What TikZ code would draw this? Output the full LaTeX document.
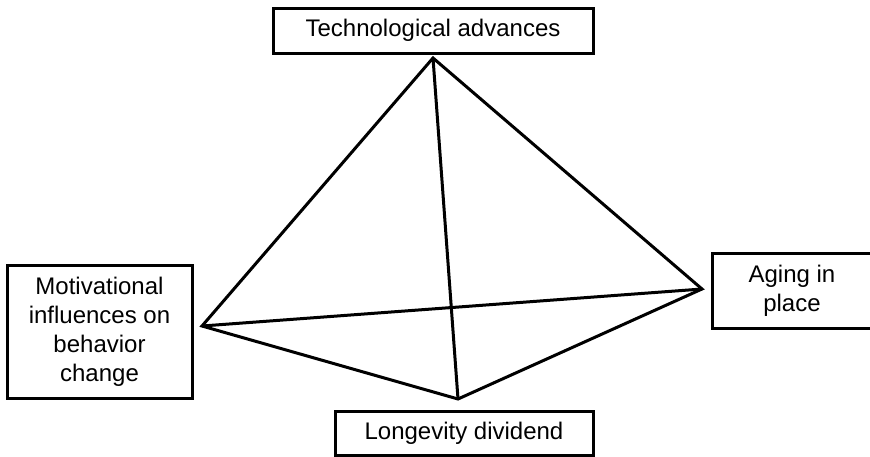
\documentclass[tikz,border=0pt]{standalone}
\usepackage{fontspec}
\setmainfont{Liberation Sans}
\usepackage{tikz}
\usetikzlibrary{positioning}

\begin{document}
\begin{tikzpicture}[
      x=1pt, y=-1pt,
      every node/.style={rectangle, draw, line width=3pt, align=center, inner sep=0pt, font=\fontsize{24}{29}\selectfont},
      link/.style={line width=3pt, line join=miter}
    ]
      \useasboundingbox (0,0) rectangle (870,456);
      \node[minimum width=320pt, minimum height=45pt] (tech) at (433,30.5) {Technological advances};
      \node[minimum width=185pt, minimum height=133pt] (motiv) at (99.5,331.5) {Motivational\\influences on\\behavior\\change};
      \node[minimum width=160pt, minimum height=75pt] (aging) at (792,290.5) {Aging in\\place};
      \node[minimum width=258pt, minimum height=44pt] (longev) at (464,433) {Longevity dividend};
      % corners of the pyramid
      \coordinate (vtech) at (433,58);
      \coordinate (vmotiv) at (202,326);
      \coordinate (vaging) at (702,289);
      \coordinate (vlongev) at (458,399);
      \draw[link] (vtech) -- (vmotiv) -- (vlongev) -- (vaging) -- cycle;
      \draw[link] (vtech) -- (vlongev);
      \draw[link] (vmotiv) -- (vaging);
    \end{tikzpicture}
\end{document}
